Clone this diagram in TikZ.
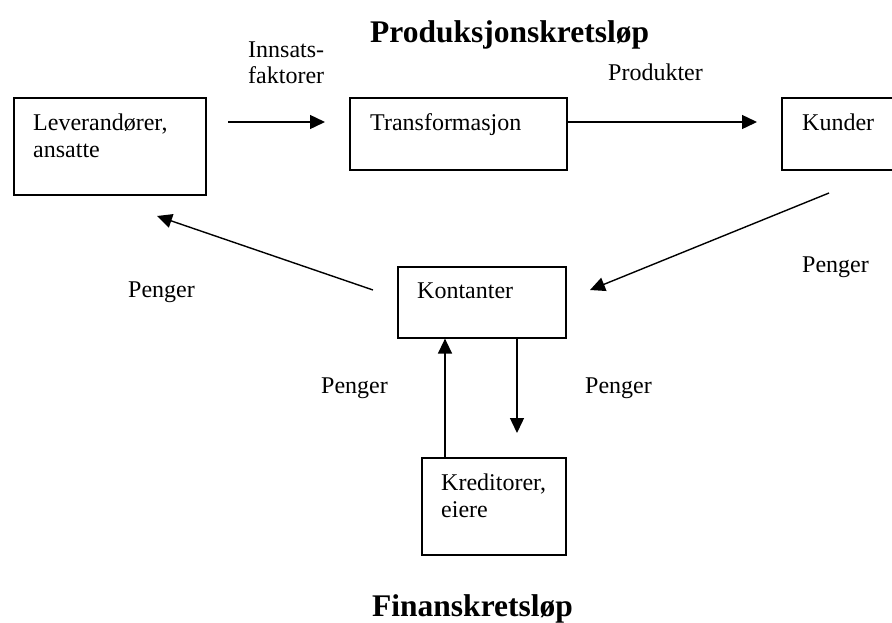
\documentclass[tikz,border=0pt]{standalone}
\usepackage{fontspec}
\setmainfont{Liberation Serif}
\usetikzlibrary{arrows.meta}
\begin{document}
\begin{tikzpicture}[x=1pt,y=-1pt,
  box/.style={draw,line width=1.6pt,rectangle,inner sep=0pt,anchor=north west},
  lbl/.style={anchor=base west,inner sep=0pt,font=\fontsize{24}{27}\selectfont},
  heading/.style={anchor=base west,inner sep=0pt,font=\fontsize{31.5}{34}\selectfont\bfseries},
  flow/.style={line width=1.4pt,-{Triangle[length=15pt,width=14pt]}}]
\useasboundingbox (0,0) rectangle (892,622);

% boxes
\node[box,minimum width=192pt,minimum height=97pt] (lev) at (13,97) {};
\node[box,minimum width=217pt,minimum height=72pt] (trans) at (349,97) {};
\node[box,minimum width=116pt,minimum height=72pt] (kunder) at (781,97) {};
\node[box,minimum width=168pt,minimum height=71pt] (kont) at (397,266) {};
\node[box,minimum width=144pt,minimum height=97pt] (kred) at (421,457) {};

% box texts
\node[lbl] (tlev1) at (33,130) {Leverandører,};
\node[lbl] (tlev2) at (33,157) {ansatte};
\node[lbl] (ttrans) at (370,130) {Transformasjon};
\node[lbl] (tkunder) at (802,130) {Kunder};
\node[lbl] (tkont) at (417,298) {Kontanter};
\node[lbl] (tkred1) at (441,490) {Kreditorer,};
\node[lbl] (tkred2) at (441,517) {eiere};

% headings
\node[heading] (prod) at (370,42) {Produksjonskretsløp};
\node[heading] (fin) at (372,616) {Finanskretsløp};

% flow labels
\node[lbl] (linn1) at (248,57) {Innsats-};
\node[lbl] (linn2) at (248,83) {faktorer};
\node[lbl] (lprod) at (608,80) {Produkter};
\node[lbl] (lpkunde) at (802,272) {Penger};
\node[lbl] (lplev) at (128,297) {Penger};
\node[lbl] (lpinn) at (321,393) {Penger};
\node[lbl] (lput) at (585,393) {Penger};

% free arrow ends
\coordinate (a1s) at (228,122);
\coordinate (a1e) at (325,122);
\coordinate (a2e) at (757,122);
\coordinate (a3s) at (829,193);
\coordinate (a3e) at (590,290);
\coordinate (a4s) at (373,290);
\coordinate (a4e) at (157,216);
\coordinate (a6e) at (517,433);

% connectors
\draw[flow] (a1s) -- (a1e);
\draw[flow] (trans.east |- a1s) -- (a2e);
\draw[flow] (a3s) -- (a3e);
\draw[flow] (a4s) -- (a4e);
\draw[flow] (kred.north -| 445,0) -- (kont.south -| 445,0);
\draw[flow] (kont.south -| a6e) -- (a6e);
\end{tikzpicture}
\end{document}
